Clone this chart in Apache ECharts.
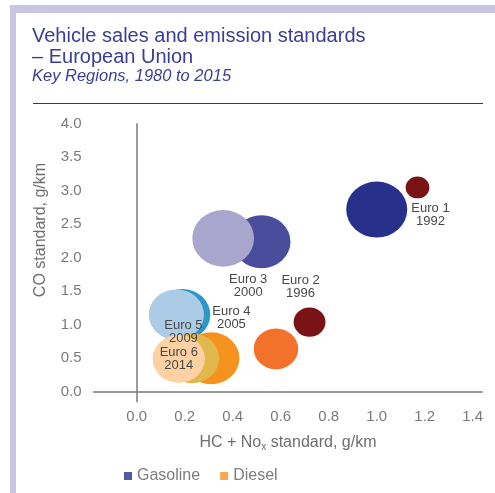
<!DOCTYPE html>
<html>
<head>
<meta charset="utf-8">
<script src="https://cdn.jsdelivr.net/npm/echarts@6/dist/echarts.min.js"></script>
<style>
  html, body { margin: 0; padding: 0; background: #fff; }
  #chart { width: 495px; height: 493px; }
</style>
</head>
<body>
<div id="chart"></div>
<script>
// Euro standards, label text
var euroNames = ['Euro 1', 'Euro 2', 'Euro 3', 'Euro 4', 'Euro 5', 'Euro 6'];
var euroYears = ['1992', '1996', '2000', '2005', '2009', '2014'];

// gasoline: HC + NOx (x), CO (y), sales (bubble size)
var gasolineHC = [1.00, 0.52, 0.36, 0.19, 0.165];
var gasolineCO = [2.72, 2.24, 2.29, 1.15, 1.15];
var gasolineSales = [49, 44, 50, 41, 40];

// diesel
var dieselHC = [1.17, 0.72, 0.58, 0.31, 0.23, 0.175];
var dieselCO = [3.05, 1.04, 0.64, 0.50, 0.50, 0.49];
var dieselSales = [7.4, 13.4, 26, 42, 39, 36];

var xTicks = [0.0, 0.2, 0.4, 0.6, 0.8, 1.0, 1.2, 1.4];
var yTicks = [0.0, 0.5, 1.0, 1.5, 2.0, 2.5, 3.0, 3.5, 4.0];

var gasolineColors = ['#27318b', '#4a4d9c', '#a9a6ce', '#2e97c9', '#abcbe6'];
var dieselColors = ['#7a1315', '#7a1315', '#f3722b', '#f6921e', '#e0b84b', '#fdd1a3'];

// which bubble carries which "Euro n / year" label, and label offset
var gasolineLabelOffset = { 1: [39, 45], 2: [25, 48], 3: [49, 3], 4: [7, 17] };
var dieselLabelOffset = { 0: [13, 27], 5: [0, 0] };

var FONT = 'Liberation Sans, Arial, sans-serif';

function isTick(v, ticks) {
  for (var i = 0; i < ticks.length; i++) {
    if (Math.abs(v - ticks[i]) < 1e-6) return true;
  }
  return false;
}

function buildData(xs, ys, sales, colors, offsets) {
  var out = [];
  for (var i = 0; i < xs.length; i++) {
    var item = {
      value: [xs[i], ys[i], sales[i]],
      itemStyle: { color: colors[i], opacity: 1 }
    };
    if (offsets[i]) {
      item.label = {
        show: true,
        position: 'inside',
        offset: offsets[i],
        formatter: euroNames[i] + '\n' + euroYears[i]
      };
    }
    out.push(item);
  }
  return out;
}

function bubbleSize(val) {
  var d = 8 * Math.sqrt(val[2]);
  return [d * 1.09, d];
}

var labelStyle = {
  show: false,
  color: '#484848',
  fontSize: 13,
  lineHeight: 13,
  fontFamily: FONT,
  align: 'center'
};

var chart = echarts.init(document.getElementById('chart'));

chart.setOption({
  animation: false,
  backgroundColor: '#fff',
  title: {
    left: 32,
    top: 26,
    padding: 0,
    itemGap: 0,
    text: 'Vehicle sales and emission standards\n\u2013 European Union',
    textStyle: { color: '#3b3e92', fontSize: 20, lineHeight: 21, fontWeight: 'normal', fontFamily: FONT },
    subtext: 'Key Regions, 1980 to 2015',
    subtextStyle: { color: '#3b3e92', fontSize: 16.5, lineHeight: 17, fontStyle: 'italic', fontFamily: FONT }
  },
  legend: {
    left: 124,
    top: 468,
    padding: 0,
    icon: 'rect',
    itemWidth: 8,
    itemHeight: 8,
    itemGap: 20,
    textStyle: { color: '#7d7d7d', fontSize: 16, fontFamily: FONT },
    data: [
      { name: 'Gasoline', itemStyle: { color: '#27318b' } },
      { name: 'Diesel', itemStyle: { color: '#f7941d' } }
    ]
  },
  grid: { left: 93.6, right: 12.7, top: 123.8, bottom: 91.2 },
  xAxis: {
    type: 'value',
    min: -0.18,
    max: 1.44,
    interval: 0.02,
    name: 'HC + No{sub|x} standard, g/km',
    nameLocation: 'middle',
    nameGap: 32,
    nameTextStyle: {
      color: '#6e6e6e', fontSize: 16, fontFamily: FONT,
      rich: { sub: { fontSize: 10, color: '#6e6e6e', fontFamily: FONT, verticalAlign: 'bottom', padding: [8, 0, 0, 0] } }
    },
    axisLine: { onZero: true, lineStyle: { color: '#7a7a7a', width: 1.5 } },
    axisTick: { show: false },
    splitLine: { show: false },
    axisLabel: {
      margin: 8,
      color: '#7a7a7a',
      fontSize: 15,
      fontFamily: FONT,
      formatter: function (v) { return isTick(v, xTicks) ? Math.abs(v).toFixed(1) : ''; }
    }
  },
  yAxis: {
    type: 'value',
    min: -0.15,
    max: 4,
    interval: 0.05,
    axisLine: { show: true, onZero: true, lineStyle: { color: '#7a7a7a', width: 1.5 } },
    axisTick: { show: false },
    splitLine: { show: false },
    axisLabel: {
      margin: 12,
      color: '#7a7a7a',
      fontSize: 15,
      fontFamily: FONT,
      formatter: function (v) { return isTick(v, yTicks) ? Math.abs(v).toFixed(1) : ''; }
    }
  },
  graphic: [
    { type: 'rect', shape: { x: 10, y: 5, width: 485, height: 8 }, style: { fill: '#c7c5e2' } },
    { type: 'rect', shape: { x: 10, y: 5, width: 6, height: 488 }, style: { fill: '#c7c5e2' } },
    { type: 'line', shape: { x1: 33, y1: 103.5, x2: 483, y2: 103.5 }, style: { stroke: '#3a3a3a', lineWidth: 1 } },
    {
      type: 'text', x: 41, y: 230, rotation: Math.PI / 2,
      style: { text: 'CO standard, g/km', fill: '#6e6e6e', font: '16px ' + FONT, textAlign: 'center', textVerticalAlign: 'middle' }
    }
  ],
  series: [
    {
      name: 'Gasoline',
      type: 'scatter',
      symbol: 'circle',
      symbolSize: bubbleSize,
      label: labelStyle,
      data: buildData(gasolineHC, gasolineCO, gasolineSales, gasolineColors, gasolineLabelOffset)
    },
    {
      name: 'Diesel',
      type: 'scatter',
      symbol: 'circle',
      symbolSize: bubbleSize,
      label: labelStyle,
      data: buildData(dieselHC, dieselCO, dieselSales, dieselColors, dieselLabelOffset)
    }
  ]
});
</script>
</body>
</html>
